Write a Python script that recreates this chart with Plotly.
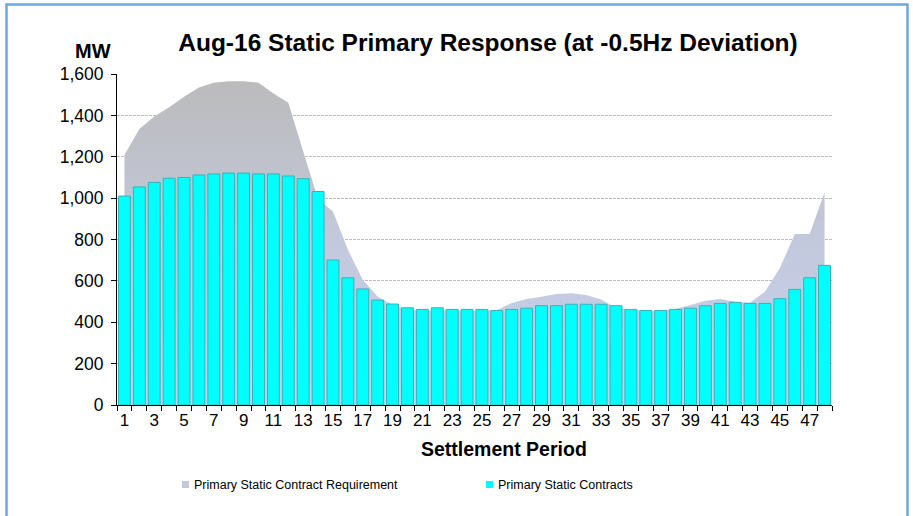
import plotly.graph_objects as go

periods = list(range(1, 49))
requirement = [1208, 1334, 1394, 1439, 1490, 1535, 1558, 1565, 1565, 1558, 1506, 1461,
               1225, 995, 935, 750, 605, 523, 485, 459, 455, 458, 455, 455,
               455, 458, 493, 512, 523, 536, 540, 532, 510, 470, 460, 455,
               455, 465, 483, 504, 512, 499, 494, 548, 662, 826, 826, 1028]
contracts = [1010, 1054, 1076, 1096, 1100, 1112, 1117, 1121, 1121, 1117, 1117, 1107,
             1094, 1032, 701, 615, 561, 507, 488, 470, 462, 470, 462, 462,
             462, 457, 462, 468, 480, 480, 487, 487, 487, 480, 462, 457,
             457, 462, 468, 480, 491, 496, 491, 491, 514, 559, 615, 675]
tick_vals = list(range(1, 49, 2))
y_ticks = [0, 200, 400, 600, 800, 1000, 1200, 1400, 1600]

L, R, T, B = 117, 81, 74, 111
W, H = 913, 516
pw, ph = W - L - R, H - T - B

def px(x):
    return (x - L) / pw

def py(y):
    return (H - B - y) / ph

fig = go.Figure()
fig.add_trace(go.Scatter(
    x=periods, y=requirement, mode="none", fill="tozeroy",
    name="Primary Static Contract Requirement",
    fillgradient=dict(type="vertical",
                      colorscale=[[0, "#c6d1ef"], [0.5, "#c3c9dd"], [1, "#bbbbbb"]]),
    showlegend=False, xaxis="x", yaxis="y",
))
fig.add_trace(go.Bar(
    x=periods, y=contracts, name="Primary Static Contracts",
    marker=dict(color="#00ffff", line=dict(color="#36b4b4", width=1)),
    showlegend=False, xaxis="x2", yaxis="y2",
))

FONT = "Liberation Sans, Arial"
fig.update_layout(
    width=W, height=H,
    margin=dict(l=L, r=R, t=T, b=B),
    paper_bgcolor="white", plot_bgcolor="white",
    bargap=0.2,
    xaxis=dict(range=[0.5, 48.5], tickvals=tick_vals, ticks="", ticklen=0,
               showgrid=False, zeroline=False, showline=True, linecolor="black",
               linewidth=1, tickfont=dict(family=FONT, size=17, color="black"),
               minor=dict(tickvals=[i + 0.5 for i in range(0, 49)], ticks="outside",
                          ticklen=5, tickcolor="black", showgrid=False)),
    yaxis=dict(range=[0, 1600], tickvals=y_ticks, tickformat=",d", ticks="outside",
               ticklen=5, tickcolor="black", showline=True, linecolor="black",
               linewidth=1, zeroline=False, showgrid=True, gridcolor="#bdbdbd",
               griddash="3px,1px", gridwidth=1,
               tickfont=dict(family=FONT, size=17.5, color="black"),
               ticklabelstandoff=4),
    xaxis2=dict(range=[0.5, 48.5], overlaying="x", visible=False),
    yaxis2=dict(range=[0, 1600], overlaying="y", visible=False),
    title=dict(text="<b>Aug-16 Static Primary Response (at -0.5Hz Deviation)</b>",
               x=px(488), xanchor="center", xref="paper",
               y=(H - 42) / H, yanchor="middle",
               font=dict(family=FONT, size=24.5, color="black")),
    showlegend=False,
)

annots = [
    dict(text="<b>MW</b>", x=px(93), y=py(51), size=20),
    dict(text="<b>Settlement Period</b>", x=px(504), y=py(449), size=19.5),
]
for a in annots:
    fig.add_annotation(text=a["text"], x=a["x"], y=a["y"], xref="paper", yref="paper",
                       xanchor="center", yanchor="middle", showarrow=False,
                       font=dict(family=FONT, size=a["size"], color="black"))

# legend
leg = [("Primary Static Contract Requirement", "#c2c7d9", 182),
       ("Primary Static Contracts", "#00ffff", 486)]
for text, col, x0 in leg:
    fig.add_shape(type="rect", xref="paper", yref="paper",
                  x0=px(x0), x1=px(x0 + 7), y0=py(488), y1=py(481),
                  fillcolor=col, line=dict(width=0))
    fig.add_annotation(text=text, x=px(x0 + 10), y=py(485), xref="paper", yref="paper",
                       xanchor="left", yanchor="middle", showarrow=False,
                       font=dict(family=FONT, size=12.5, color="black"))

# outer border
fig.add_shape(type="rect", xref="paper", yref="paper",
              x0=px(6.5), x1=px(907.5), y0=py(530), y1=py(4.5),
              line=dict(color="#6fa8dc", width=2.5), fillcolor="rgba(0,0,0,0)",
              layer="above")

fig.write_html("out.html", config={"displayModeBar": False},
               post_script="document.body.style.margin='0';document.body.style.overflow='hidden';")
